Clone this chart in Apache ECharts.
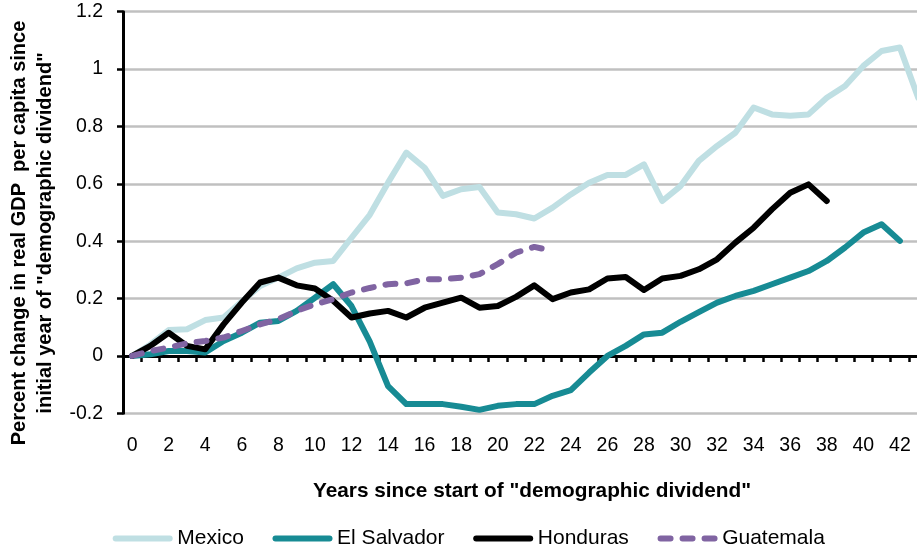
<!DOCTYPE html>
<html>
<head>
<meta charset="utf-8">
<script src="https://cdn.jsdelivr.net/npm/echarts@6/dist/echarts.min.js"></script>
<style>html,body{margin:0;padding:0;background:#fff;}#c{width:917px;height:550px;}</style>
</head>
<body>
<div id="c"></div>
<script>
var years = ['0','1','2','3','4','5','6','7','8','9','10','11','12','13','14','15','16','17','18','19','20','21','22','23','24','25','26','27','28','29','30','31','32','33','34','35','36','37','38','39','40','41','42','43'];
var mexico = [0, 0.04, 0.09, 0.093, 0.125, 0.134, 0.19, 0.244, 0.273, 0.305, 0.325, 0.331, 0.412, 0.492, 0.604, 0.709, 0.656, 0.558, 0.581, 0.589, 0.5, 0.494, 0.479, 0.517, 0.563, 0.604, 0.631, 0.631, 0.668, 0.54, 0.592, 0.68, 0.732, 0.778, 0.866, 0.842, 0.837, 0.842, 0.9, 0.941, 1.011, 1.063, 1.075, 0.9];
var elSalvador = [0, 0.006, 0.017, 0.017, 0.012, 0.052, 0.081, 0.116, 0.122, 0.157, 0.203, 0.25, 0.174, 0.05, -0.105, -0.168, -0.168, -0.168, -0.177, -0.188, -0.174, -0.168, -0.168, -0.139, -0.119, -0.058, 0, 0.035, 0.075, 0.081, 0.119, 0.153, 0.186, 0.209, 0.227, 0.25, 0.273, 0.296, 0.331, 0.378, 0.43, 0.459, 0.401];
var honduras = [0, 0.035, 0.081, 0.035, 0.023, 0.11, 0.186, 0.256, 0.273, 0.246, 0.235, 0.192, 0.134, 0.148, 0.157, 0.134, 0.168, 0.186, 0.203, 0.168, 0.174, 0.206, 0.246, 0.198, 0.221, 0.232, 0.27, 0.275, 0.23, 0.27, 0.279, 0.302, 0.337, 0.395, 0.447, 0.511, 0.569, 0.598, 0.54];
var guatemala = [0, 0.017, 0.029, 0.044, 0.052, 0.064, 0.087, 0.11, 0.128, 0.157, 0.18, 0.198, 0.221, 0.237, 0.25, 0.253, 0.267, 0.267, 0.273, 0.285, 0.32, 0.36, 0.38, 0.366];
var seriesNames = ['Mexico', 'El Salvador', 'Honduras', 'Guatemala'];
var yTitle = 'Percent change in real GDP  per capita since\ninitial year of "demographic dividend"';
var xTitle = 'Years since start of "demographic dividend"';

var FONT = '"Liberation Sans", Arial, sans-serif';
var chart = echarts.init(document.getElementById('c'), null, {renderer: 'canvas'});

function lineSeries(name, data, color, dash) {
  return {
    name: name, type: 'line', data: data, xAxisIndex: 0, yAxisIndex: 0,
    symbol: 'none', showSymbol: false, smooth: false,
    lineStyle: {color: color, width: 6, type: dash || 'solid', cap: 'round', join: 'round'},
    itemStyle: {color: color},
    emphasis: {disabled: true}
  };
}

chart.setOption({
  animation: false,
  backgroundColor: '#ffffff',
  grid: {left: 123, width: 804.3, top: 11.7, bottom: 136.7, containLabel: false, outerBoundsMode: 'none'},
  xAxis: [
    {
      type: 'category', data: years, boundaryGap: true, position: 'bottom',
      axisLine: {show: true, onZero: true, lineStyle: {color: '#000', width: 3}},
      axisTick: {show: true, interval: 0, inside: false, length: 6, lineStyle: {color: '#000', width: 2.5}},
      axisLabel: {show: false},
      splitLine: {show: false}
    },
    {
      type: 'category', data: years, boundaryGap: true, position: 'bottom',
      axisLine: {show: false, onZero: false},
      axisTick: {show: false},
      axisLabel: {show: true, interval: 1, margin: 22, color: '#000', fontFamily: FONT, fontSize: 19.5},
      splitLine: {show: false}
    }
  ],
  yAxis: {
    type: 'value', min: -0.2, max: 1.2, interval: 0.2,
    axisLine: {show: true, onZero: false, lineStyle: {color: '#000', width: 3}},
    axisTick: {show: true, inside: false, length: 6, lineStyle: {color: '#000', width: 2.5}},
    axisLabel: {color: '#000', fontFamily: FONT, fontSize: 19.5, margin: 20},
    splitLine: {show: true, lineStyle: {color: '#c0c0c0', width: 2.5}}
  },
  legend: {
    data: seriesNames,
    left: 112.7, top: 528, padding: 0,
    itemWidth: 54, itemHeight: 14, itemGap: 28.7,
    itemStyle: {color: 'rgba(0,0,0,0)', borderColor: 'rgba(0,0,0,0)', borderWidth: 0, opacity: 0},
    lineStyle: {width: 6, cap: 'round'},
    textStyle: {color: '#000', fontFamily: FONT, fontSize: 21, padding: [0, 0, 0, 2.6]}
  },
  graphic: [
    {
      type: 'text', x: 32, y: 233, rotation: Math.PI / 2,
      style: {text: yTitle, font: 'bold 20px ' + FONT, fill: '#000', align: 'center', verticalAlign: 'middle', textAlign: 'center', textVerticalAlign: 'middle', lineHeight: 26}
    },
    {
      type: 'text', x: 532, y: 491,
      style: {text: xTitle, font: 'bold 20.8px ' + FONT, fill: '#000', align: 'center', verticalAlign: 'middle', textAlign: 'center', textVerticalAlign: 'middle'}
    }
  ],
  series: [
    lineSeries(seriesNames[0], mexico, '#bfdfe3'),
    lineSeries(seriesNames[1], elSalvador, '#178b94'),
    lineSeries(seriesNames[2], honduras, '#000000'),
    lineSeries(seriesNames[3], guatemala, '#8064a2', [10, 12])
  ]
});
</script>
</body>
</html>
